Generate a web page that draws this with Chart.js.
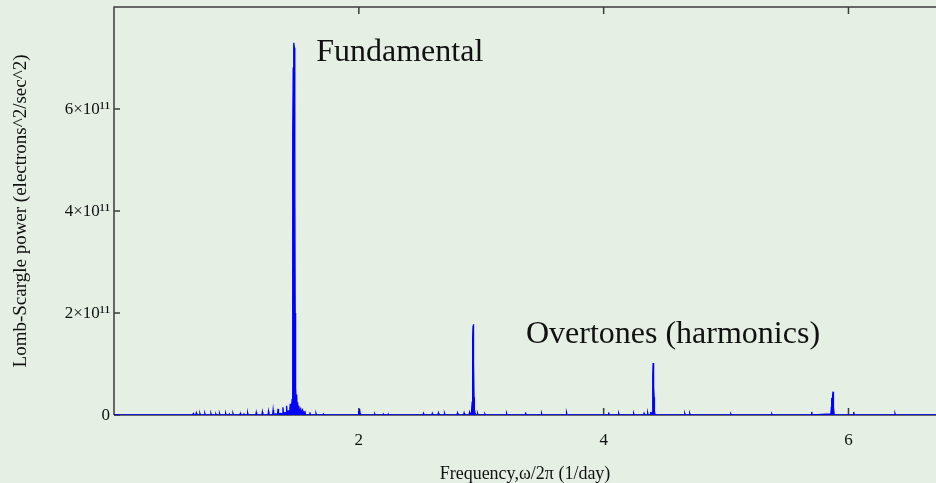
<!DOCTYPE html>
<html>
<head>
<meta charset="utf-8">
<script src="https://cdn.jsdelivr.net/npm/chart.js@4/dist/chart.umd.min.js"></script>
<style>
  html, body { margin: 0; padding: 0; background: #e5efe4; }
  #wrap { width: 936px; height: 483px; }
</style>
</head>
<body>
<div id="wrap"><canvas id="lsChart" width="936" height="483"></canvas></div>
<script>
// frequency (1/day) and Lomb-Scargle power (in units of 1e11)
const freq = [
  0.000, 0.640, 0.648, 0.652, 0.668, 0.672, 0.676, 0.698, 0.702, 0.706,
  0.738, 0.742, 0.746, 0.788, 0.792, 0.796, 0.828, 0.832, 0.836, 0.858,
  0.862, 0.866, 0.908, 0.912, 0.916, 0.938, 0.942, 0.946, 0.968, 0.972,
  0.976, 1.028, 1.032, 1.036, 1.058, 1.062, 1.066, 1.088, 1.092, 1.096,
  1.158, 1.162, 1.166, 1.208, 1.212, 1.216, 1.258, 1.262, 1.266, 1.296,
  1.300, 1.304, 1.320, 1.336, 1.340, 1.344, 1.360, 1.376, 1.380, 1.384,
  1.396, 1.406, 1.410, 1.414, 1.424, 1.436, 1.440, 1.444, 1.450,
  1.455, 1.458, 1.460, 1.462, 1.464, 1.467, 1.470, 1.473, 1.476, 1.478,
  1.480, 1.482, 1.485, 1.488, 1.492, 1.496, 1.500, 1.505, 1.510, 1.515,
  1.525, 1.530, 1.540, 1.556, 1.560, 1.564, 1.596, 1.600, 1.604, 1.646,
  1.650, 1.654, 1.706, 1.710, 1.714,
  1.994, 1.998, 2.002, 2.006, 2.010, 2.014,
  2.126, 2.130, 2.134, 2.196, 2.200, 2.204, 2.236, 2.240, 2.244,
  2.524, 2.528, 2.532, 2.596, 2.600, 2.604, 2.646, 2.650, 2.654, 2.696,
  2.700, 2.704, 2.802, 2.806, 2.810, 2.856, 2.860, 2.864, 2.900, 2.904,
  2.908, 2.920, 2.926, 2.929, 2.931, 2.933, 2.935, 2.937, 2.939, 2.941,
  2.944, 2.950, 2.958, 2.966, 2.970, 2.974, 3.026, 3.030, 3.034,
  3.203, 3.207, 3.211, 3.358, 3.362, 3.366, 3.489, 3.493, 3.497, 3.693, 3.697, 3.701,
  4.037, 4.041, 4.045, 4.119, 4.123, 4.127, 4.241, 4.245, 4.249, 4.326, 4.330, 4.334,
  4.356, 4.360, 4.364, 4.380, 4.384, 4.388,
  4.397, 4.400, 4.402, 4.404, 4.406, 4.408, 4.410, 4.412, 4.415, 4.420,
  4.659, 4.663, 4.667, 4.699, 4.703, 4.707, 5.035, 5.039, 5.043, 5.370, 5.374, 5.378,
  5.696, 5.700, 5.704,
  5.856, 5.860, 5.863, 5.866, 5.869, 5.872, 5.874, 5.876, 5.879, 5.883, 5.888,
  6.039, 6.043, 6.047, 6.376, 6.380, 6.384, 6.715
];
const power = [
  0.00, 0.00, 0.03, 0.00, 0.00, 0.04, 0.00, 0.00, 0.03, 0.00,
  0.00, 0.03, 0.00, 0.00, 0.03, 0.00, 0.00, 0.02, 0.00, 0.00,
  0.03, 0.00, 0.00, 0.03, 0.00, 0.00, 0.02, 0.00, 0.00, 0.03,
  0.00, 0.00, 0.03, 0.00, 0.00, 0.02, 0.00, 0.00, 0.04, 0.00,
  0.00, 0.05, 0.00, 0.00, 0.06, 0.00, 0.00, 0.07, 0.00, 0.00,
  0.10, 0.01, 0.02, 0.01, 0.12, 0.02, 0.03, 0.02, 0.15, 0.03,
  0.05, 0.04, 0.18, 0.05, 0.08, 0.08, 0.22, 0.10, 0.15,
  0.30, 1.00, 3.00, 5.50, 6.80, 7.25, 7.30, 7.20, 6.50, 4.50,
  2.00, 0.60, 0.55, 0.25, 0.40, 0.15, 0.25, 0.08, 0.18, 0.06,
  0.12, 0.04, 0.10, 0.00, 0.08, 0.00, 0.00, 0.05, 0.00, 0.00,
  0.03, 0.00, 0.00, 0.02, 0.00,
  0.00, 0.08, 0.02, 0.12, 0.03, 0.00,
  0.00, 0.02, 0.00, 0.00, 0.02, 0.00, 0.00, 0.02, 0.00,
  0.00, 0.03, 0.00, 0.00, 0.03, 0.00, 0.00, 0.04, 0.00, 0.00,
  0.03, 0.00, 0.00, 0.04, 0.00, 0.00, 0.04, 0.00, 0.00, 0.05,
  0.01, 0.05, 0.25, 0.90, 1.50, 1.75, 1.78, 1.60, 1.00, 0.35,
  0.10, 0.04, 0.00, 0.00, 0.03, 0.00, 0.00, 0.02, 0.00,
  0.00, 0.03, 0.00, 0.00, 0.05, 0.00, 0.00, 0.03, 0.00, 0.00, 0.04, 0.00,
  0.00, 0.05, 0.00, 0.00, 0.03, 0.00, 0.00, 0.03, 0.00, 0.00, 0.03, 0.00,
  0.00, 0.04, 0.00, 0.00, 0.06, 0.00,
  0.05, 0.30, 0.75, 1.02, 0.95, 0.62, 0.55, 0.35, 0.08, 0.00,
  0.00, 0.03, 0.00, 0.00, 0.03, 0.00, 0.00, 0.02, 0.00, 0.00, 0.02, 0.00,
  0.00, 0.06, 0.00,
  0.02, 0.15, 0.31, 0.30, 0.30, 0.38, 0.457, 0.40, 0.15, 0.02, 0.00,
  0.00, 0.06, 0.00, 0.00, 0.03, 0.00, 0.00
];

const xTicks = [2, 4, 6];
const yTicks = [0, 2, 4, 6];
const yTickLabels = ['0', '2×10¹¹', '4×10¹¹', '6×10¹¹'];

const annotations = [
  { text: 'Fundamental', x: 1.652, y: 6.94 },
  { text: 'Overtones (harmonics)', x: 3.365, y: 1.41 }
];

const BG = '#e5efe4';
const FRAME = '#3c3c3c';
const SERIF = '"Liberation Serif", "Times New Roman", serif';

const framePlugin = {
  id: 'frame',
  beforeDraw(chart) {
    const { ctx } = chart;
    ctx.save();
    ctx.fillStyle = BG;
    ctx.fillRect(0, 0, chart.width, chart.height);
    ctx.restore();
  },
  beforeDatasetsDraw(chart) {
    const { ctx, chartArea: a, scales: { x, y } } = chart;
    ctx.save();
    ctx.strokeStyle = FRAME;
    ctx.lineWidth = 1.5;
    ctx.beginPath();
    ctx.moveTo(a.left, a.bottom);
    ctx.lineTo(a.left, a.top);
    ctx.lineTo(a.right, a.top);
    ctx.moveTo(a.left, a.bottom);
    ctx.lineTo(a.right, a.bottom);
    ctx.stroke();
    // inward tick marks
    ctx.beginPath();
    xTicks.forEach(v => {
      const px = x.getPixelForValue(v);
      ctx.moveTo(px, a.bottom);
      ctx.lineTo(px, a.bottom - 7);
      ctx.moveTo(px, a.top);
      ctx.lineTo(px, a.top + 7);
    });
    yTicks.forEach(v => {
      const py = y.getPixelForValue(v);
      ctx.moveTo(a.left, py);
      ctx.lineTo(a.left + 6, py);
    });
    ctx.stroke();
    ctx.restore();
  },
  afterDraw(chart) {
    const { ctx, scales: { x, y } } = chart;
    ctx.save();
    ctx.fillStyle = '#111';
    ctx.font = '32px ' + SERIF;
    ctx.textBaseline = 'alphabetic';
    ctx.textAlign = 'left';
    annotations.forEach(a => {
      ctx.fillText(a.text, x.getPixelForValue(a.x), y.getPixelForValue(a.y));
    });
    ctx.restore();
  }
};

new Chart(document.getElementById('lsChart'), {
  type: 'line',
  data: {
    datasets: [{
      data: freq.map((f, i) => ({ x: f, y: power[i] })),
      borderColor: '#0000ff',
      backgroundColor: '#0000ff',
      borderWidth: 1.3,
      pointRadius: 0,
      tension: 0,
      fill: 'origin'
    }]
  },
  options: {
    responsive: false,
    animation: false,
    layout: { padding: { top: 7, right: 0, left: 0, bottom: 0 } },
    plugins: { legend: { display: false }, tooltip: { enabled: false } },
    scales: {
      x: {
        type: 'linear',
        min: 0,
        max: 6.715,
        grid: { display: false, drawTicks: false },
        border: { display: false },
        afterBuildTicks: s => { s.ticks = xTicks.map(v => ({ value: v })); },
        afterFit: s => { s.height = 68; s.paddingLeft = 0; s.paddingRight = 0; },
        ticks: {
          padding: 15,
          color: '#111',
          font: { family: SERIF, size: 17 },
          maxRotation: 0
        },
        title: {
          display: true,
          text: 'Frequency,ω/2π (1/day)',
          color: '#111',
          font: { family: SERIF, size: 18, lineHeight: 1 },
          padding: { top: 0, bottom: 0 }
        }
      },
      y: {
        min: 0,
        max: 8,
        grid: { display: false, drawTicks: false },
        border: { display: false },
        afterBuildTicks: s => { s.ticks = yTicks.map(v => ({ value: v })); },
        afterFit: s => { s.width = 114; s.paddingTop = 0; s.paddingBottom = 0; },
        ticks: {
          padding: 4,
          labelOffset: 1,
          color: '#111',
          font: { family: SERIF, size: 17 },
          callback: v => yTickLabels[yTicks.indexOf(v)]
        },
        title: {
          display: true,
          text: 'Lomb-Scargle power (electrons^2/sec^2)',
          color: '#111',
          font: { family: SERIF, size: 19 },
          padding: { top: 10, bottom: 0 }
        }
      }
    }
  },
  plugins: [framePlugin]
});
</script>
</body>
</html>
